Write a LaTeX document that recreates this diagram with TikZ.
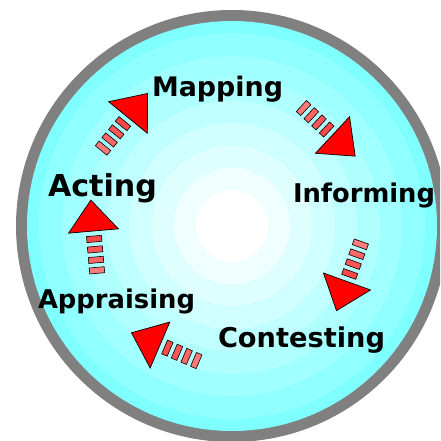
\documentclass[tikz,border=0pt]{standalone}
\usepackage{fontspec}
\setmainfont{DejaVu Sans}
\usepackage{graphicx}
\definecolor{ringgray}{HTML}{808080}
\definecolor{discedge}{HTML}{80FFFF}
\definecolor{headred}{HTML}{FF0000}
\definecolor{dashA}{HTML}{FF7A7A}
\definecolor{dashB}{HTML}{FF6666}
\definecolor{dashC}{HTML}{FF5757}
\definecolor{dashD}{HTML}{FF4848}
\tikzset{
  stage/.style={anchor=base west, inner sep=0pt, outer sep=0pt, font=\bfseries},
  dashblock/.style={draw=black, line width=0.6pt},
  headtri/.style={draw=black, line width=0.7pt, fill=headred, line join=miter},
  pics/cyclearrow/.style={code={
    \filldraw[dashblock, fill=dashA] (-42.5,-7.5) rectangle (-36.5,7.5);
    \filldraw[dashblock, fill=dashB] (-32,-7.5) rectangle (-26,7.5);
    \filldraw[dashblock, fill=dashC] (-21.5,-7.5) rectangle (-15.5,7.5);
    \filldraw[dashblock, fill=dashD] (-11,-7.5) rectangle (-5,7.5);
    \filldraw[headtri] (0,25) -- (31,0) -- (0,-25) -- cycle;
  }}
}
\begin{document}
\begin{tikzpicture}[x=1pt,y=1pt]
  \useasboundingbox (0,0) rectangle (440,441);
  \clip (0,0) rectangle (440,441);
  \coordinate (c) at (232,215);
  % grey rim and banded cyan disc fading to a white centre
  \fill[ringgray] (c) circle (216);
  \foreach \r/\p in {205/100, 193/87.5, 170/75, 148/62.5, 125/50, 103/37.5, 80/25, 58/12.5}
    \fill[discedge!\p!white] (c) circle (\r);
  \fill[white] (c) circle (36);

  % stage labels
  \node[stage] (mapping)    at (152,344) {\resizebox{131pt}{!}{Mapping}};
  \node[stage] (informing)  at (293,238) {\resizebox{142pt}{!}{Informing}};
  \node[stage] (contesting) at (218,93)  {\resizebox{167pt}{!}{Contesting}};
  \node[stage] (appraising) at (38,132)  {\resizebox{157pt}{!}{Appraising}};
  \node[stage] (acting)     at (48,244)  {\resizebox{109pt}{!}{Acting}};

  % block arrows running clockwise between the stages
  \pic[rotate=50.8]  (actmap)  at (128,323.5) {cyclearrow};
  \pic[rotate=-43]   (mapinf)  at (332.5,306) {cyclearrow};
  \pic[rotate=-109.8] (infcon) at (347,159.5) {cyclearrow};
  \pic[rotate=156.8] (conapp)  at (160,96)    {cyclearrow};
  \pic[rotate=95]    (appact)  at (93.5,210)  {cyclearrow};
\end{tikzpicture}
\end{document}
